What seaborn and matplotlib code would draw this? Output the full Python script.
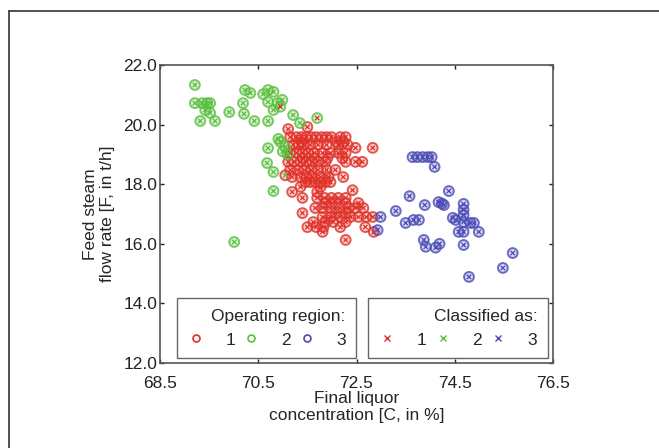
import numpy as np
import pandas as pd
import seaborn as sns
from matplotlib import pyplot as plt
from matplotlib.lines import Line2D

# operating region 1 (red circles)
red_x = [71.11, 71.50,
         71.15, 71.28, 71.38, 71.48, 71.58, 71.68, 71.79, 71.89, 71.99, 72.17, 72.28,
         71.38, 72.09, 72.23,
         71.21, 71.32, 71.42, 71.56, 71.72, 71.89, 72.13, 72.32,
         72.83, 72.48,
         71.15, 71.28, 71.40, 71.52, 71.64, 71.81, 71.97, 72.13, 72.28,
         71.40, 71.64, 71.91, 72.21,
         71.11, 71.23, 71.36, 71.48, 71.60, 71.72, 71.87, 72.28, 72.48, 72.62,
         71.15, 71.30, 71.44, 71.58, 71.72, 71.89, 72.07,
         71.19, 71.36, 71.48, 71.60, 71.77, 71.93, 72.23,
         71.46, 71.56, 71.66, 71.77, 71.87, 71.97,
         71.36, 71.77,
         71.19, 71.70, 72.42,
         71.40, 71.70, 71.85, 71.99, 72.13, 72.28,
         71.87, 72.07, 72.28, 72.54,
         71.66, 71.81, 71.97, 72.17, 72.34, 72.48, 72.64,
         71.40, 72.07, 72.28,
         71.81, 71.97, 72.17, 72.38, 72.54, 72.70, 72.83,
         71.62, 71.87, 72.03, 72.28,
         71.50, 71.68, 71.83, 72.17, 72.68,
         71.81, 72.85,
         72.28,
         71.05]
red_y = [19.85, 19.92,
         19.58, 19.58, 19.58, 19.58, 19.58, 19.58, 19.58, 19.58, 19.58, 19.58, 19.58,
         19.42, 19.42, 19.42,
         19.32, 19.32, 19.32, 19.32, 19.32, 19.32, 19.32, 19.32,
         19.22, 19.22,
         19.05, 19.05, 19.05, 19.05, 19.05, 19.05, 19.05, 19.05, 19.05,
         18.88, 18.88, 18.88, 18.88,
         18.75, 18.75, 18.75, 18.75, 18.75, 18.75, 18.75, 18.75, 18.75, 18.75,
         18.48, 18.48, 18.48, 18.48, 18.48, 18.48, 18.48,
         18.24, 18.24, 18.24, 18.24, 18.24, 18.24, 18.24,
         18.07, 18.07, 18.07, 18.07, 18.07, 18.07,
         17.91, 17.91,
         17.74, 17.74, 17.80,
         17.54, 17.54, 17.54, 17.54, 17.54, 17.54,
         17.37, 17.37, 17.37, 17.37,
         17.20, 17.20, 17.20, 17.20, 17.20, 17.20, 17.20,
         17.03, 17.03, 17.03,
         16.90, 16.90, 16.90, 16.90, 16.90, 16.90, 16.90,
         16.73, 16.73, 16.73, 16.73,
         16.56, 16.56, 16.56, 16.56, 16.56,
         16.40, 16.40,
         16.13,
         18.30]
red_cls = [1] * (len(red_x) - 1) + [2]

# operating region 2 (green circles)
green_x = [69.21, 69.21, 69.36, 69.46, 69.52, 69.42, 69.52, 69.32, 69.62, 69.91,
           70.23, 70.34, 70.19, 70.21, 70.42, 70.70, 70.81, 70.70, 70.89, 70.99,
           70.95, 70.81, 70.70, 71.21, 71.70, 70.91, 70.70, 71.05, 71.00, 70.95,
           71.10, 70.68, 70.81, 70.81, 70.01, 70.60, 71.35]
green_y = [21.33, 20.72, 20.72, 20.72, 20.72, 20.49, 20.39, 20.12, 20.12, 20.42,
           21.16, 21.06, 20.72, 20.36, 20.12, 21.16, 21.10, 20.76, 20.72, 20.83,
           20.60, 20.49, 20.12, 20.32, 20.22, 19.52, 19.21, 19.25, 19.10, 19.42,
           19.00, 18.71, 18.41, 17.77, 16.06, 21.02, 20.05]
green_cls = [2] * 20 + [1, 2, 2, 2, 1] + [2] * 12

# operating region 3 (blue circles)
blue_x = [73.64, 73.74, 73.85, 73.95, 74.03, 74.09, 74.38, 73.58, 73.89, 74.17,
          74.28, 74.68, 74.68, 74.68, 73.30, 72.99, 73.50, 73.66, 73.77, 74.46,
          74.52, 74.68, 74.82, 74.89, 74.99, 74.58, 74.68, 73.87, 73.91, 74.11,
          74.19, 74.68, 75.68, 75.48, 74.79, 72.93, 74.24]
blue_y = [18.91, 18.91, 18.91, 18.91, 18.91, 18.58, 17.77, 17.60, 17.30, 17.40,
          17.30, 17.34, 17.14, 16.97, 17.10, 16.90, 16.70, 16.80, 16.80, 16.87,
          16.80, 16.73, 16.70, 16.70, 16.40, 16.40, 16.40, 16.13, 15.90, 15.87,
          16.00, 15.96, 15.69, 15.19, 14.89, 16.46, 17.35]
blue_cls = [3] * len(blue_x)

x_ticks = [68.5, 70.5, 72.5, 74.5, 76.5]
y_ticks = [12.0, 14.0, 16.0, 18.0, 20.0, 22.0]

df = pd.DataFrame({
    "C": red_x + green_x + blue_x,
    "F": red_y + green_y + blue_y,
    "region": [1] * len(red_x) + [2] * len(green_x) + [3] * len(blue_x),
    "classified": red_cls + green_cls + blue_cls,
})

palette = {1: "#e03028", 2: "#58bf3c", 3: "#4a4ab6"}

sns.set_theme(style="ticks")
plt.rcParams["font.family"] = ["Liberation Sans", "DejaVu Sans"]

fig = plt.figure(figsize=(6.59, 4.48), dpi=100)
ax = fig.add_axes([160 / 659, 1 - 363 / 448, 393 / 659, 298 / 448])

sns.scatterplot(data=df, x="C", y="F", hue="region", palette=palette,
                marker="o", s=50, linewidth=1.4, legend=False, ax=ax)
coll = ax.collections[-1]
ec = coll.get_facecolors().copy()
fc = ec.copy()
fc[:, 3] = 0.22
ec[:, 3] = 0.8
coll.set_edgecolors(ec)
coll.set_facecolors(fc)

sns.scatterplot(data=df, x="C", y="F", hue="classified", palette=palette,
                marker="x", s=10, linewidth=0.9, legend=False, ax=ax)

ax.set_xlim(68.5, 76.5)
ax.set_ylim(12, 22)
ax.set_xticks(x_ticks)
ax.set_yticks(y_ticks)
ax.set_xticklabels([f"{v:.1f}" for v in x_ticks])
ax.set_yticklabels([f"{v:.1f}" for v in y_ticks])
ax.tick_params(direction="in", length=3, width=1, top=True, right=True,
               labelsize=12.5, colors="#222222", pad=2)
ax.tick_params(axis="x", pad=9)
for sp in ax.spines.values():
    sp.set_color("#555555")
    sp.set_linewidth(1.2)
ax.set_xlabel("Final liquor\nconcentration [C, in %]", fontsize=12.5, labelpad=0)
ax.set_ylabel("Feed steam\nflow rate [F, in t/h]", fontsize=12.5, labelpad=6)

h1 = [Line2D([], [], ls="none", marker="o", ms=5, mfc="none", mew=1.2,
             mec=palette[k]) for k in (1, 2, 3)]
h2 = [Line2D([], [], ls="none", marker="x", ms=4, mew=1.0,
             color=palette[k]) for k in (1, 2, 3)]
leg_kw = dict(ncol=3, loc="lower left", mode="expand", fontsize=12.5,
              title_fontsize=12.5, fancybox=False, edgecolor="#666666",
              framealpha=1, handletextpad=1.2, columnspacing=1.0,
              handlelength=1.0, borderaxespad=0, borderpad=0.6,
              alignment="right")
leg1 = ax.legend(h1, ["1", "2", "3"], title="Operating region:",
                 bbox_to_anchor=(0.043, 0.017, 0.456, 0.2), **leg_kw)
ax.add_artist(leg1)
leg2 = ax.legend(h2, ["1", "2", "3"], title="Classified as:",
                 bbox_to_anchor=(0.529, 0.017, 0.458, 0.2), **leg_kw)
for leg in (leg1, leg2):
    leg.get_frame().set_linewidth(1.0)

# outer frame of the figure panel
fig.add_artist(Line2D([9 / 659, 9 / 659], [0, 1 - 11 / 448], color="#333333", lw=1.2))
fig.add_artist(Line2D([9 / 659, 1], [1 - 11 / 448, 1 - 11 / 448], color="#333333", lw=1.2))

fig.savefig("out.png", dpi=100)
